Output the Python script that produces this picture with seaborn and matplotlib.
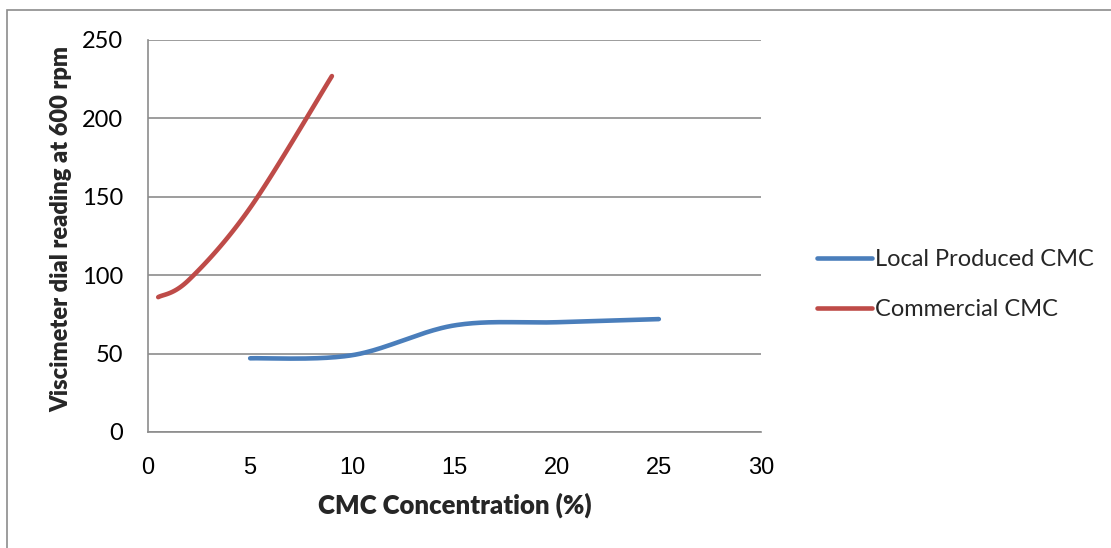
import numpy as np
import pandas as pd
import matplotlib
matplotlib.use("Agg")
import matplotlib.pyplot as plt
import seaborn as sns

# Measured viscometer readings (600 rpm) against CMC concentration
local_conc = [5, 10, 15, 20, 25]
local_reading = [47, 49, 68, 70, 72]
commercial_conc = [0.5, 2, 5, 9]
commercial_reading = [86, 97, 143, 227]

series_names = ["Local Produced CMC", "Commercial CMC"]
series_colors = ["#4a7ebb", "#be4b48"]
x_ticks = [0, 5, 10, 15, 20, 25, 30]
y_ticks = [0, 50, 100, 150, 200, 250]


def smooth(xs, ys, n=40):
    """Smoothed line through the points (cubic Bezier, Catmull-Rom tangents)."""
    p = np.column_stack([xs, ys]).astype(float)
    ext = np.vstack([p[0], p, p[-1]])
    out = []
    t = np.linspace(0, 1, n)[:, None]
    for i in range(1, len(ext) - 2):
        p0, p1, p2, p3 = ext[i - 1], ext[i], ext[i + 1], ext[i + 2]
        c1 = p1 + (p2 - p0) / 6
        c2 = p2 - (p3 - p1) / 6
        seg = ((1 - t) ** 3) * p1 + 3 * ((1 - t) ** 2) * t * c1 + 3 * (1 - t) * t ** 2 * c2 + t ** 3 * p2
        out.append(seg if i == 1 else seg[1:])
    s = np.vstack(out)
    return s[:, 0], s[:, 1]


frames = []
for name, xs, ys in [(series_names[0], local_conc, local_reading),
                     (series_names[1], commercial_conc, commercial_reading)]:
    sx, sy = smooth(xs, ys)
    frames.append(pd.DataFrame({"conc": sx, "reading": sy, "series": name}))
df = pd.concat(frames, ignore_index=True)

sns.set_theme(style="white")
plt.rcParams["font.family"] = ["Lato", "DejaVu Sans"]
plt.rcParams["xtick.major.pad"] = 18
plt.rcParams["ytick.major.pad"] = 18
plt.rcParams["xtick.major.size"] = 0
plt.rcParams["ytick.major.size"] = 0

fig = plt.figure(figsize=(11.11, 5.48), dpi=100)
ax = fig.add_axes([148 / 1111, 1 - 432 / 548, (761 - 148) / 1111, (432 - 40) / 548])

sns.lineplot(data=df, x="conc", y="reading", hue="series", hue_order=series_names,
             palette=series_colors, sort=False, estimator=None, units="series",
             linewidth=3.3, ax=ax, legend=False, solid_capstyle="round")

ax.set_xlim(0, 30)
ax.set_ylim(0, 250)
ax.set_xticks(x_ticks)
ax.set_yticks(y_ticks)
ax.set_xticklabels([str(v) for v in x_ticks], fontfamily="Liberation Sans", fontsize=17)
ax.set_yticklabels([str(v) for v in y_ticks], fontsize=17)
ax.tick_params(axis="both", length=0, colors="black")
ax.tick_params(axis="x", pad=18)
ax.tick_params(axis="y", pad=18)

ax.yaxis.grid(True, color="#8c8c8c", linewidth=1.2)
ax.xaxis.grid(False)
for side in ["top", "right"]:
    ax.spines[side].set_visible(False)
for side in ["left", "bottom"]:
    ax.spines[side].set_color("#8c8c8c")
    ax.spines[side].set_linewidth(1.2)
ax.set_axisbelow(True)

ax.set_xlabel("CMC Concentration (%)", fontsize=18.5, fontweight="heavy")
ax.set_ylabel("Viscimeter dial reading at 600 rpm", fontsize=17, fontweight="heavy")
ax.xaxis.set_label_coords(0.5, -(505 - 432) / 392, transform=ax.transAxes)
ax.xaxis.label.set_va("center")
ax.yaxis.set_label_coords(-(148 - 61) / 613, (432 - 229) / 392, transform=ax.transAxes)
ax.yaxis.label.set_va("center")

handles = [plt.Line2D([], [], color=c, linewidth=3.3, solid_capstyle="round") for c in series_colors]
fig.legend(handles, series_names, loc="upper left", bbox_to_anchor=(808 / 1111, 1 - 240 / 548),
           frameon=False, fontsize=17, handlelength=2.3, handletextpad=0.15,
           labelspacing=1.2, borderaxespad=0)

# chart-area border
fig.add_artist(plt.Rectangle((7 / 1111, -0.1), 1.2, 1 - 10 / 548 + 0.1, transform=fig.transFigure,
                             fill=False, edgecolor="#8c8c8c", linewidth=1.2))

fig.savefig("out.png", dpi=100)
